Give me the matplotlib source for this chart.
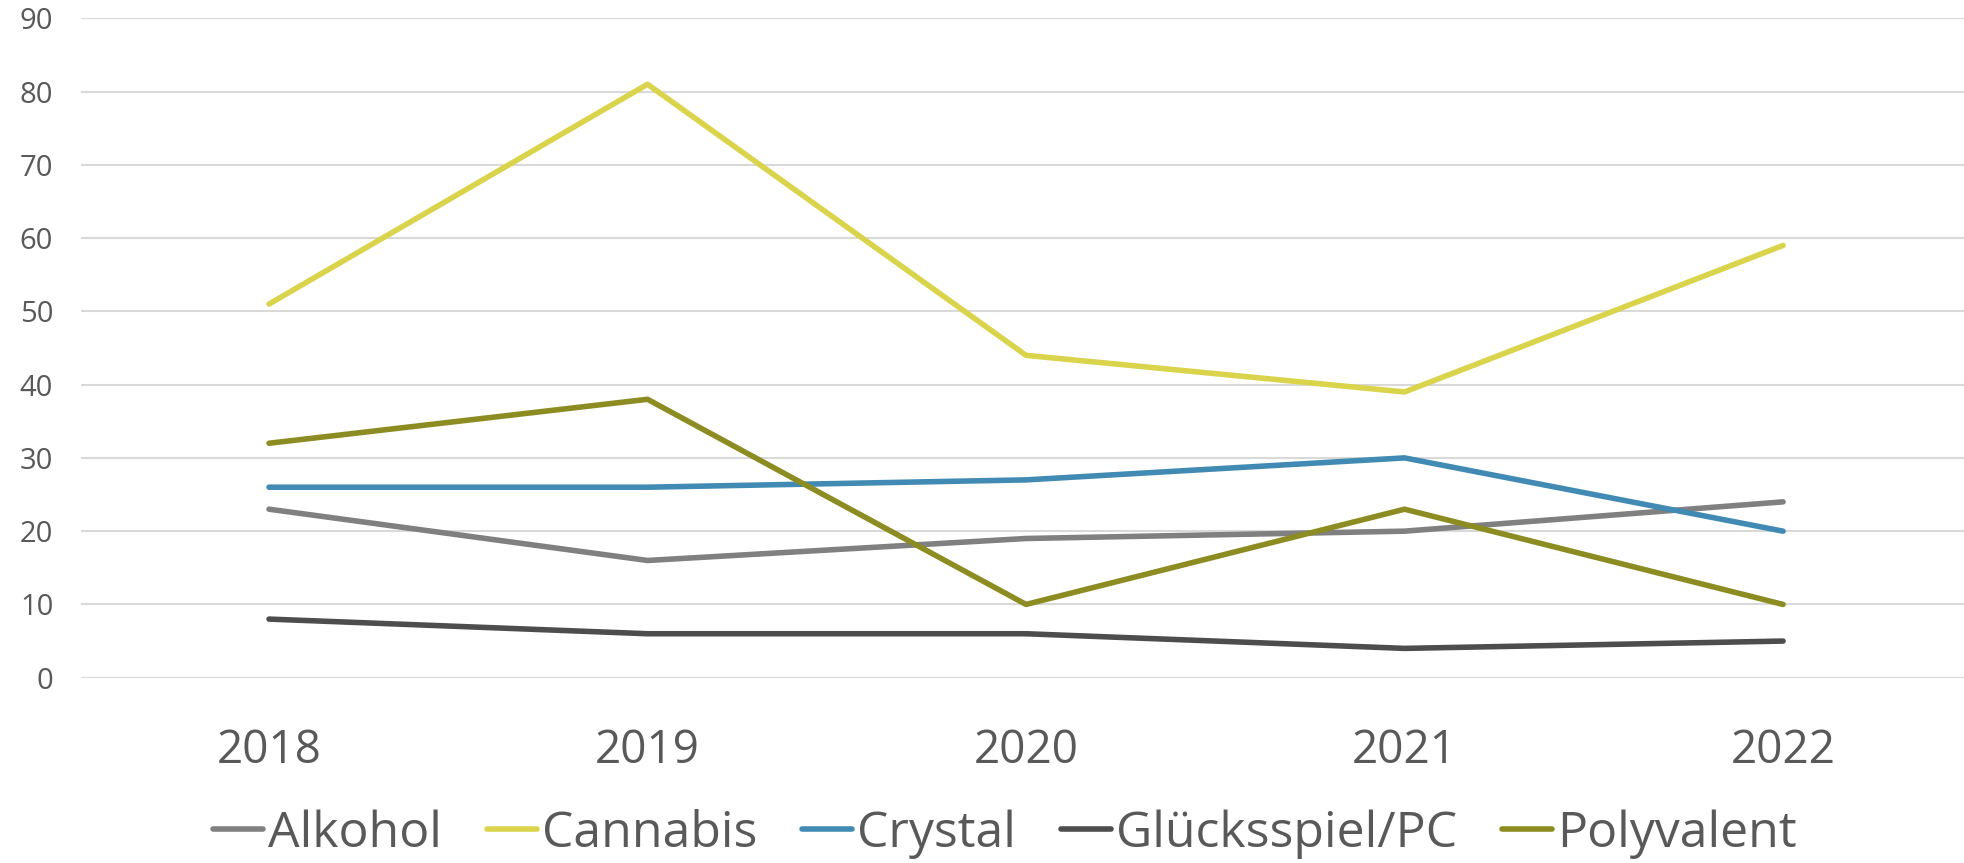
import numpy as np
import matplotlib
matplotlib.use("Agg")
import matplotlib.pyplot as plt

years = ["2018", "2019", "2020", "2021", "2022"]
series_names = ["Alkohol", "Cannabis", "Crystal", "Glücksspiel/PC", "Polyvalent"]
alkohol = [23, 16, 19, 20, 24]
cannabis = [51, 81, 44, 39, 59]
crystal = [26, 26, 27, 30, 20]
gluecksspiel = [8, 6, 6, 4, 5]
polyvalent = [32, 38, 10, 23, 10]
colors = ["#808080", "#D9D44B", "#418AB3", "#4D4D4D", "#8C8C22"]

text_col = "#595959"
plt.rcParams["font.family"] = ["Open Sans", "DejaVu Sans"]

fig = plt.figure(figsize=(19.64, 8.63), dpi=100)
ax = fig.add_axes([81 / 1964, 185.3 / 863, (1964 - 81) / 1964, (844.7 - 185.3) / 863])

x = np.arange(len(years))
for name, vals, c in zip(series_names, [alkohol, cannabis, crystal, gluecksspiel, polyvalent], colors):
    ax.plot(x, vals, color=c, lw=4.0, solid_capstyle="round", solid_joinstyle="round", label=name, zorder=3)

ax.set_xlim(-0.4967, 4.478)
ax.set_ylim(0, 90)
ax.set_yticks(np.arange(0, 91, 10))
ax.set_xticks(x)
ax.set_xticklabels(years)
ax.grid(axis="y", color="#D9D9D9", lw=1.5, zorder=0)
ax.grid(axis="x", visible=False)
for s in ax.spines.values():
    s.set_visible(False)
ax.tick_params(axis="y", length=0, pad=20, labelsize=21, labelcolor=text_col)
ax.tick_params(axis="x", length=0, pad=36, labelsize=33, labelcolor=text_col)

leg = fig.legend(loc="center", bbox_to_anchor=(1005 / 1964, 1 - 834 / 863), ncol=5, frameon=False,
                 prop={"size": 36},
                 handlelength=1.0, handletextpad=0.1, columnspacing=0.9)
for t in leg.get_texts():
    t.set_color(text_col)

fig.savefig("out.png", dpi=100)
plt.close(fig)
